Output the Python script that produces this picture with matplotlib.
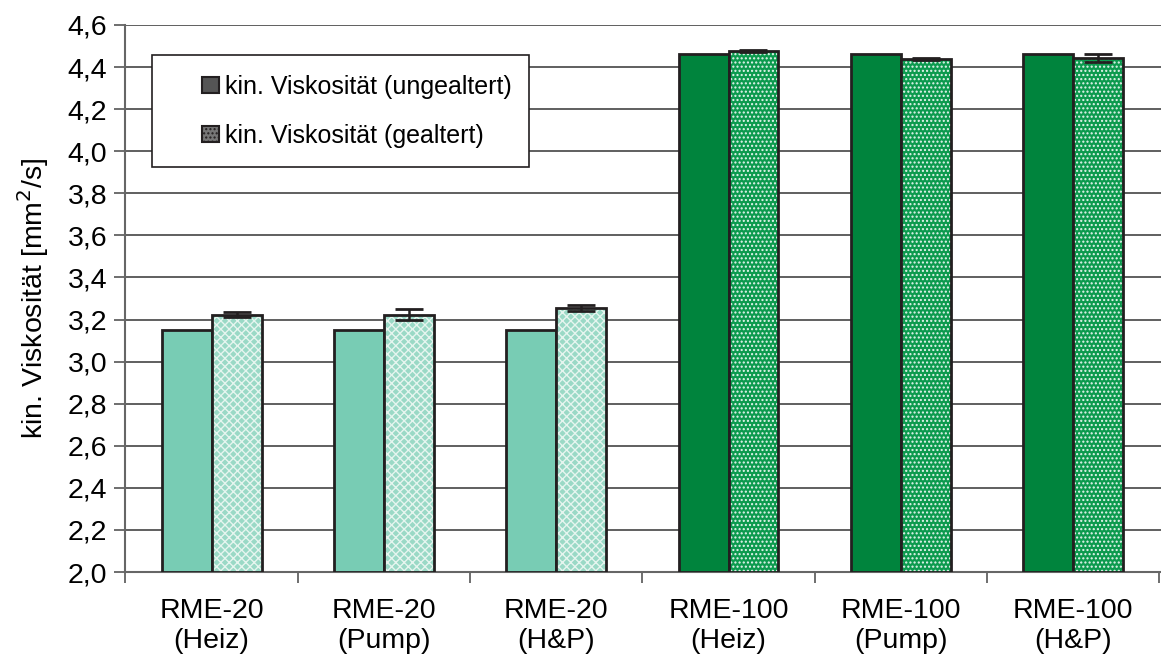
import numpy as np
import matplotlib.pyplot as plt
from matplotlib.patches import Patch, Rectangle
from matplotlib.ticker import FuncFormatter

plt.rcParams['font.family'] = ['Liberation Sans', 'DejaVu Sans']

categories = ['RME-20\n(Heiz)', 'RME-20\n(Pump)', 'RME-20\n(H&P)',
              'RME-100\n(Heiz)', 'RME-100\n(Pump)', 'RME-100\n(H&P)']
ungealtert = [3.15, 3.15, 3.15, 4.46, 4.46, 4.46]
gealtert = [3.223, 3.223, 3.254, 4.475, 4.438, 4.443]
gealtert_err = [0.012, 0.027, 0.014, 0.005, 0.005, 0.021]

col_light = '#78ccb4'
col_light_h = '#9ad9c6'
col_dark = '#00843d'
col_dark_h = '#0c9a4e'

fig = plt.figure(figsize=(11.61, 6.61), dpi=100)
ax = fig.add_axes([0.108, 0.1346, 0.895, 0.8276])

x = np.arange(len(categories))
w = 0.29
c_base = [col_light] * 3 + [col_dark] * 3
c_hatch = [col_light_h] * 3 + [col_dark_h] * 3

ax.bar(x - w / 2, np.array(ungealtert) - 2, w, bottom=2, color=c_base,
       edgecolor='#231f20', linewidth=2, zorder=3)

# hatched bars: pattern in white, then black outline on top
plt.rcParams['hatch.linewidth'] = 1.0
for i in range(len(x)):
    h = 'xxxx' if i < 3 else '....'
    ax.bar(x[i] + w / 2, gealtert[i] - 2, w, bottom=2, color=c_hatch[i],
           edgecolor='#e6f5ef', hatch=h, linewidth=0, zorder=3)
ax.bar(x + w / 2, np.array(gealtert) - 2, w, bottom=2, fill=False,
       edgecolor='#231f20', linewidth=2, zorder=4)
ax.errorbar(x + w / 2, gealtert, yerr=gealtert_err, fmt='none',
            ecolor='#231f20', elinewidth=1.8, capsize=10, capthick=2, zorder=5)

ax.set_ylim(2.0, 4.6)
ax.set_xlim(-0.5, 5.53)
ax.set_yticks(np.arange(2.0, 4.61, 0.2))
ax.yaxis.set_major_formatter(FuncFormatter(lambda v, p: f'{v:.1f}'.replace('.', ',')))
ax.grid(axis='y', color='#444444', linewidth=1.2, zorder=0)
ax.set_axisbelow(True)

ax.set_xticks(np.arange(-0.5, 5.6, 1.0))
ax.set_xticklabels([])
ax.set_xticks(x, minor=True)
ax.set_xticklabels(categories, minor=True, fontsize=20.5)
ax.tick_params(axis='x', which='minor', length=0, pad=19)
ax.tick_params(axis='x', which='major', length=8, color='#555555', width=1.2)
ax.tick_params(axis='y', labelsize=20.5, length=8, color='#555555', width=1.2, pad=5)

for s in ['top', 'right']:
    ax.spines[s].set_visible(False)
for s in ['left', 'bottom']:
    ax.spines[s].set_color('#666666')
    ax.spines[s].set_linewidth(1.5)

ax.set_ylabel('kin. Viskosität [mm$^2$/s]', fontsize=20.5, labelpad=12)

# legend frame drawn separately (wide left padding as in original)
ax.add_patch(Rectangle((0.026, 0.740), 0.362, 0.205, transform=ax.transAxes,
                       facecolor='white', edgecolor='#231f20', linewidth=1.2,
                       zorder=9))
handles = [Patch(facecolor='#555555', edgecolor='#231f20', linewidth=1.5),
           Patch(facecolor='#777777', edgecolor='#231f20', hatch='....', linewidth=1.5)]
leg = ax.legend(handles, ['kin. Viskosität (ungealtert)', 'kin. Viskosität (gealtert)'],
                loc='center left', bbox_to_anchor=(0.074, 0.842), fontsize=18,
                frameon=False, handlelength=0.65, handleheight=0.65,
                handletextpad=0.25, labelspacing=1.0, borderpad=0,
                borderaxespad=0)
leg.set_zorder(10)

fig.savefig('out.png', dpi=100)
